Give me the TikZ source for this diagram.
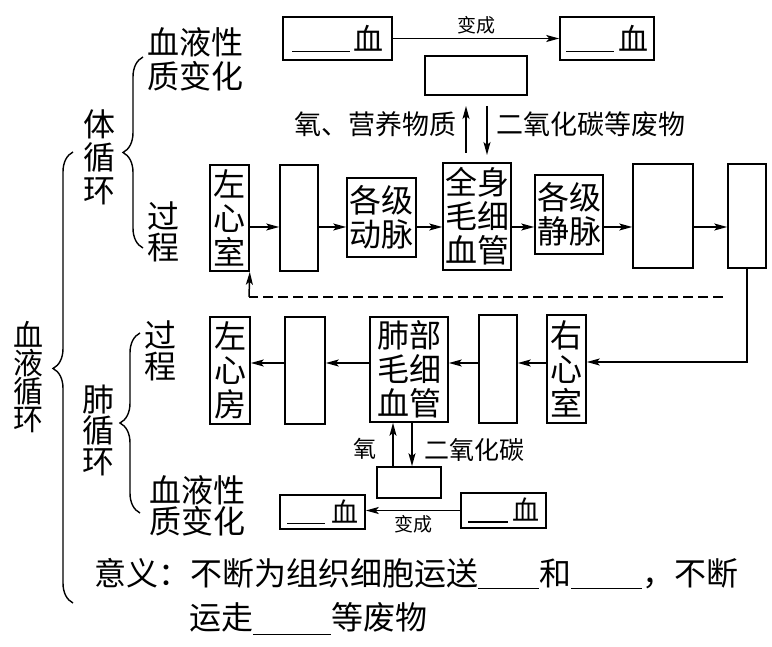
\documentclass[tikz,border=0pt]{standalone}
\usepackage{fontspec}
\setmainfont{Noto Sans CJK SC}
\usetikzlibrary{arrows.meta,decorations.pathreplacing}
\newcommand\myfs[2]{\fontsize{#1}{#2}\selectfont}
\begin{document}
\begin{tikzpicture}[x=1pt,y=-1pt,
  box/.style={draw,line width=1.6pt,inner sep=0pt,align=center,font=\myfs{32}{34}},
  bbox/.style={draw,line width=1.6pt,inner sep=0pt,align=center,font=\myfs{30}{32}},
  arr/.style={-{Stealth[length=13pt,width=7pt,inset=3pt]},line width=1.5pt},
  dline/.style={line width=1.5pt,dash pattern=on 10pt off 5pt},
  lbl/.style={inner sep=0pt,align=left,font=\myfs{32}{34}},
  stack/.style={inner sep=0pt,align=center},
  brc/.style={decorate,decoration={brace,amplitude=20pt},line width=1.4pt}
]
\useasboundingbox (0,0) rectangle (772,647);

% ---------- side labels and braces ----------
\node[stack,font=\myfs{30}{28}] (xhxh) at (28,377) {血\\液\\循\\环};
\node[stack,font=\myfs{32}{33}] (txh) at (99,157) {体\\循\\环};
\node[stack,font=\myfs{32}{31}] (fxh) at (98,430) {肺\\循\\环};
\node[lbl,anchor=west] (xz1) at (147,59) {血液性\\质变化};
\node[stack,font=\myfs{32}{31}] (gc1) at (163,232) {过\\程};
\node[stack,font=\myfs{32}{31}] (gc2) at (160,351) {过\\程};
\node[lbl,anchor=west,font=\myfs{32}{31}] (xz2) at (149,506) {血液性\\质变化};

\draw[brc,decoration={aspect=0.52}] (73,603) -- (73,152);
\draw[brc] (143,248) -- (143,57);
\draw[brc] (140,513) -- (140,333);

% ---------- top: blood change ----------
\node[bbox,minimum width=109pt,minimum height=43pt] (tl) at (337.5,38.5) {\rule[-2pt]{58pt}{1.4pt}\hspace{3pt}血};
\node[bbox,minimum width=94pt,minimum height=43pt] (tr) at (607,38.5) {\rule[-2pt]{48pt}{1.4pt}\hspace{4pt}血};
\node[box,minimum width=102pt,minimum height=39pt] (tm) at (476,75.5) {};
\draw[arr] (tl.east) -- node[above=4pt,inner sep=0pt,font=\myfs{19}{20}] (bc1) {变成} (tr.west);

\coordinate (ua1) at (466,153);
\coordinate (ua2) at (466,106);
\coordinate (da1) at (487,106);
\coordinate (da2) at (487,155);
\draw[arr] (ua1) -- (ua2);
\draw[arr] (da1) -- (da2);
\node[inner sep=0pt,anchor=east,font=\myfs{27}{28}] (yy) at (457,124) {氧、营养物质};
\node[inner sep=0pt,anchor=west,font=\myfs{27}{28}] (fw) at (496,124) {二氧化碳等废物};

% ---------- systemic circulation row ----------
\node[box,minimum width=39pt,minimum height=106pt] (lv) at (229.5,218) {左\\心\\室};
\node[box,minimum width=38pt,minimum height=106pt] (b2) at (299,218) {};
\node[box,minimum width=69pt,minimum height=79pt] (art) at (381.5,217.5) {各级\\动脉};
\node[box,minimum width=68pt,minimum height=107pt] (cap) at (477,216.5) {全身\\毛细\\血管};
\node[box,minimum width=68pt,minimum height=79pt] (vein) at (569,214.5) {各级\\静脉};
\node[box,minimum width=60pt,minimum height=104pt] (b4) at (663,216) {};
\node[box,minimum width=38pt,minimum height=104pt] (b5) at (747,216) {};

\coordinate (rowA) at (0,227);
\draw[arr] (lv.east |- rowA) -- (b2.west |- rowA);
\draw[arr] (b2.east |- rowA) -- (art.west |- rowA);
\draw[arr] (art.east |- rowA) -- (cap.west |- rowA);
\draw[arr] (cap.east |- rowA) -- (vein.west |- rowA);
\draw[arr] (vein.east |- rowA) -- (b4.west |- rowA);
\draw[arr] (b4.east |- rowA) -- (b5.west |- rowA);

% dashed return
\coordinate (ds) at (723,297);
\coordinate (dc) at (249,297);
\draw[dline] (ds) -- (dc);
\draw[arr] (dc) -- (lv.south east);

% ---------- pulmonary circulation row ----------
\node[box,minimum width=40pt,minimum height=107pt] (la) at (230,370.5) {左\\心\\房};
\node[box,minimum width=40pt,minimum height=107pt] (lb1) at (305,370.5) {};
\node[box,minimum width=78pt,minimum height=105pt] (lung) at (409,369.5) {肺部\\毛细\\血管};
\node[box,minimum width=38pt,minimum height=108pt] (lb2) at (498,369) {};
\node[box,minimum width=39pt,minimum height=108pt] (rv) at (566.5,369) {右\\心\\室};

\coordinate (rowB) at (0,363);
\draw[arr] (b5.south) -- (b5.south |- 0,362) -- (rv.east |- 0,362);
\draw[arr] (rv.west |- rowB) -- (lb2.east |- rowB);
\draw[arr] (lb2.west |- rowB) -- (lung.east |- rowB);
\draw[arr] (lung.west |- rowB) -- (lb1.east |- rowB);
\draw[arr] (lb1.west |- rowB) -- (la.east |- rowB);

% lung exchange
\node[box,minimum width=64pt,minimum height=31pt] (sb) at (409,482.5) {};
\draw[arr] (sb.north -| 393,0) -- (lung.south -| 393,0);
\draw[arr] (lung.south -| 412,0) -- (sb.north -| 412,0);
\node[inner sep=0pt,anchor=east,font=\myfs{23}{24}] (y2) at (377,449) {氧};
\node[inner sep=0pt,anchor=west,font=\myfs{25}{26}] (c2) at (424,450) {二氧化碳};

\node[bbox,font=\myfs{27}{28},minimum width=85pt,minimum height=34pt] (bl) at (322.5,512) {\rule[-2pt]{38pt}{1.4pt}\hspace{6pt}血};
\node[bbox,font=\myfs{27}{28},minimum width=85pt,minimum height=35pt] (br) at (503.5,510.5) {\rule[-2pt]{40pt}{1.4pt}\hspace{4pt}血};
\draw[arr] (br.west) -- node[below=4pt,inner sep=0pt,font=\myfs{19}{20}] (bc2) {变成} (br.west -| bl.east);

% ---------- meaning ----------
\node[inner sep=0pt,anchor=base west,font=\myfs{32}{34}] (m1) at (94,585)
  {意义：不断为组织细胞运送\rule[-4pt]{61pt}{1.4pt}和\rule[-4pt]{71pt}{1.4pt}，不断};
\node[inner sep=0pt,anchor=base west,font=\myfs{32}{34}] (m2) at (189,629)
  {运走\rule[-6pt]{78pt}{1.4pt}等废物};
\end{tikzpicture}
\end{document}
